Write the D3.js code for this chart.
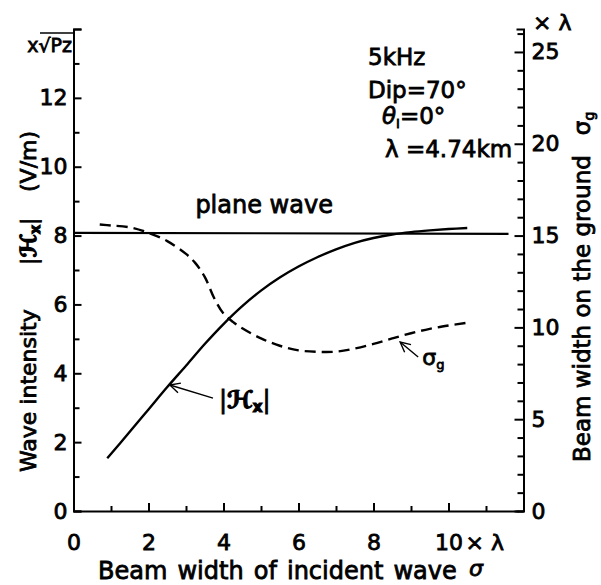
<!DOCTYPE html>
<html>
<head>
<meta charset="utf-8">
<script src="https://cdn.jsdelivr.net/npm/d3@7"></script>
<style>
  body { margin: 0; background: #fff; }
  svg text { font-family: "DejaVu Sans", sans-serif; fill: #000; stroke: #000; stroke-width: 0.8; }
  .axis path, .axis line { stroke: #000; stroke-width: 2; }
  .script { font-weight: bold; stroke-width: 1.2; }
</style>
</head>
<body>
<div id="chart"></div>
<script>
'use strict';

let width = 601;
let height = 585;
let margin = { top: 29, bottom: 74, left: 73.5, right: 77.5 };

// beam width of incident wave (x lambda)
const sigmaTicks = [0, 1, 2, 3, 4, 5, 6, 7, 8, 9, 10, 11];
const intensityTicks = [0, 1, 2, 3, 4, 5, 6, 7, 8, 9, 10, 11, 12, 13, 14];
const groundTicks = [0, 1, 2, 3, 4, 5, 6, 7, 8, 9, 10, 11, 12, 13, 14, 15, 16, 17, 18, 19, 20, 21, 22, 23, 24, 25, 26];

// |Hx| (left axis, V/m x sqrt(Pz))
const hxSigma = [0.9, 1.5, 2, 2.5, 3, 3.5, 4, 4.5, 5, 5.5, 6, 6.5, 7, 7.5, 8, 8.5, 9, 9.5, 10, 10.5];
const hxValue = [1.53, 2.3, 2.95, 3.6, 4.22, 4.85, 5.43, 5.95, 6.4, 6.78, 7.1, 7.37, 7.6, 7.79, 7.93, 8.03, 8.1, 8.15, 8.19, 8.22];

// plane wave level (left axis)
const planeSigma = [0, 11.6];
const planeValue = [8.08, 8.05];

// sigma_g, beam width on the ground (right axis, x lambda)
const sgSigma = [0.7, 1, 1.5, 2, 2.5, 3, 3.25, 3.5, 3.75, 4, 4.25, 4.5, 5, 5.5, 6, 6.5, 7, 7.5, 8, 8.5, 9, 9.5, 10, 10.5];
const sgValue = [15.6, 15.55, 15.45, 15.15, 14.7, 14.0, 13.5, 12.75, 11.6, 10.75, 10.3, 9.95, 9.4, 9.0, 8.75, 8.67, 8.68, 8.85, 9.1, 9.4, 9.68, 9.92, 10.1, 10.25];

let svg;

function init() {
    svg = d3.select("#chart")
        .append("svg")
        .attr("width", width)
        .attr("height", height);

    svg.append("rect").attr("width", width).attr("height", height).attr("fill", "#fff");

    const x = d3.scaleLinear().domain([0, 12]).range([margin.left, width - margin.right]);
    const yL = d3.scaleLinear().domain([0, 14]).range([height - margin.bottom, margin.top]);
    // right axis: 15 lines up with 8 on the left
    const yR = d3.scaleLinear().domain([0, 14 * 15 / 8]).range([height - margin.bottom, margin.top]);

    // bottom axis
    const gx = svg.append("g")
        .attr("class", "axis")
        .attr("transform", `translate(0,${height - margin.bottom})`)
        .call(d3.axisBottom(x)
            .tickValues(sigmaTicks)
            .tickSizeInner(-8)
            .tickSizeOuter(0)
            .tickPadding(20)
            .tickFormat(d => d % 2 === 0 ? d : ""));
    gx.selectAll(".tick line").filter(d => d % 2 === 1).attr("y2", -5);
    gx.selectAll(".tick text").attr("font-size", 22).attr("dy", "0.85em");

    svg.append("text")
        .attr("x", x(10) + 17)
        .attr("y", 550)
        .attr("font-size", 22)
        .text("× λ");

    // left axis
    const gl = svg.append("g")
        .attr("class", "axis")
        .attr("transform", `translate(${margin.left},0)`)
        .call(d3.axisLeft(yL)
            .tickValues(intensityTicks)
            .tickSizeInner(-8)
            .tickSizeOuter(-8)
            .tickPadding(6)
            .tickFormat(d => (d % 2 === 0 && d > 0 && d < 14) ? d : ""));
    gl.selectAll(".tick line").filter(d => d % 2 === 1).attr("x2", 6);
    gl.selectAll(".tick text").attr("font-size", 22);
    gl.append("text")
        .attr("x", -6).attr("y", yL(0)).attr("dy", "0.35em")
        .attr("text-anchor", "end").attr("font-size", 22).text("0");

    // right axis
    const gr = svg.append("g")
        .attr("class", "axis")
        .attr("transform", `translate(${width - margin.right},0)`)
        .call(d3.axisRight(yR)
            .tickValues(groundTicks)
            .tickSizeInner(-9)
            .tickSizeOuter(-7)
            .tickPadding(8)
            .tickFormat(d => d % 5 === 0 ? d : ""));
    gr.selectAll(".tick line").filter(d => d % 5 !== 0).attr("x2", -6);
    gr.selectAll(".tick text").attr("font-size", 22);

    // curves
    const lineL = d3.line().x(d => x(d[0])).y(d => yL(d[1])).curve(d3.curveCatmullRom);
    const lineR = d3.line().x(d => x(d[0])).y(d => yR(d[1])).curve(d3.curveCatmullRom);

    svg.append("path")
        .datum(d3.zip(planeSigma, planeValue))
        .attr("d", lineL)
        .attr("fill", "none").attr("stroke", "#000").attr("stroke-width", 2.2);

    svg.append("path")
        .datum(d3.zip(hxSigma, hxValue))
        .attr("d", lineL)
        .attr("fill", "none").attr("stroke", "#000").attr("stroke-width", 2.4);

    svg.append("path")
        .datum(d3.zip(sgSigma, sgValue))
        .attr("d", lineR)
        .attr("fill", "none").attr("stroke", "#000").attr("stroke-width", 2.4)
        .attr("stroke-dasharray", "11,6");

    // open arrowheads
    svg.append("defs").append("marker")
        .attr("id", "vee")
        .attr("viewBox", "-1 -6 12 12")
        .attr("refX", 0).attr("refY", 0)
        .attr("markerWidth", 12).attr("markerHeight", 12)
        .attr("markerUnits", "userSpaceOnUse")
        .attr("orient", "auto")
        .append("path")
        .attr("d", "M10,-5 L0,0 L10,5")
        .attr("fill", "none").attr("stroke", "#000").attr("stroke-width", 1.4);

    // |Hx| label and arrow
    svg.append("line")
        .attr("x1", x(2.57)).attr("y1", yL(3.66))
        .attr("x2", x(3.72)).attr("y2", yL(3.28))
        .attr("stroke", "#000").attr("stroke-width", 1.4)
        .attr("marker-start", "url(#vee)");
    const hxLab = svg.append("text")
        .attr("x", x(3.88)).attr("y", yL(3.0))
        .attr("font-size", 24);
    hxLab.append("tspan").text("|");
    hxLab.append("tspan").attr("class", "script").text("ℋ");
    hxLab.append("tspan").attr("class", "script").attr("font-size", 15).attr("dy", 4).text("x");
    hxLab.append("tspan").attr("dy", -4).text("|");

    // sigma_g label and arrow
    svg.append("line")
        .attr("x1", x(8.71)).attr("y1", yR(9.2))
        .attr("x2", x(9.19)).attr("y2", yR(8.39))
        .attr("stroke", "#000").attr("stroke-width", 1.4)
        .attr("marker-start", "url(#vee)");
    const sgLab = svg.append("text")
        .attr("x", x(9.3)).attr("y", yR(7.95))
        .attr("font-size", 22);
    sgLab.append("tspan").text("σ");
    sgLab.append("tspan").attr("font-size", 13).attr("dy", 4).text("g");

    // plane wave label
    svg.append("text")
        .attr("x", x(3.25)).attr("y", yL(8.65))
        .attr("font-size", 24)
        .text("plane wave");

    // parameters
    const info = [
        { t: "5kHz", x: 368, y: 65 },
        { t: "Dip=70°", x: 368, y: 98 },
        { t: "λ =4.74km", x: 385, y: 157 }
    ];
    svg.selectAll(".info")
        .data(info)
        .join("text")
        .attr("class", "info")
        .attr("x", d => d.x).attr("y", d => d.y)
        .attr("font-size", 23)
        .text(d => d.t);
    const th = svg.append("text").attr("x", 382).attr("y", 124).attr("font-size", 23);
    th.append("tspan").attr("font-style", "italic").text("θ");
    th.append("tspan").attr("font-size", 13).attr("dy", 4).text("I");
    th.append("tspan").attr("dy", -4).text("=0°");

    // unit labels at the top of the axes
    svg.append("text")
        .attr("x", 72).attr("y", 52)
        .attr("text-anchor", "end")
        .attr("font-size", 19)
        .text("x√Pz");
    svg.append("line")
        .attr("x1", 40).attr("x2", 73).attr("y1", 33).attr("y2", 33)
        .attr("stroke", "#000").attr("stroke-width", 1.6);
    svg.append("text")
        .attr("x", 533).attr("y", 30)
        .attr("font-size", 22)
        .text("× λ");

    // axis titles
    svg.append("text")
        .attr("transform", "translate(36,472) rotate(-90)")
        .attr("font-size", 22)
        .text("Wave intensity");
    const lt = svg.append("text")
        .attr("transform", "translate(36,265) rotate(-90)")
        .attr("font-size", 22);
    lt.append("tspan").text("|");
    lt.append("tspan").attr("class", "script").text("ℋ");
    lt.append("tspan").attr("class", "script").attr("font-size", 14).attr("dy", 4).text("x");
    lt.append("tspan").attr("dy", -4).text("|");
    svg.append("text")
        .attr("transform", "translate(36,192) rotate(-90)")
        .attr("font-size", 22)
        .text("(V/m)");

    const rt = svg.append("text")
        .attr("transform", "translate(590,462) rotate(-90)")
        .attr("font-size", 23);
    rt.append("tspan").text("Beam width on the ground");
    rt.append("tspan").attr("dx", 20).text("σ");
    rt.append("tspan").attr("font-size", 14).attr("dy", 4).text("g");

    svg.append("text")
        .attr("x", 98).attr("y", 579)
        .attr("font-size", 24)
        .attr("word-spacing", 2.5)
        .text("Beam width of incident wave");
    svg.append("text")
        .attr("x", 469).attr("y", 576)
        .attr("font-size", 22)
        .attr("font-style", "italic")
        .text("σ");
}

init();
</script>
</body>
</html>
